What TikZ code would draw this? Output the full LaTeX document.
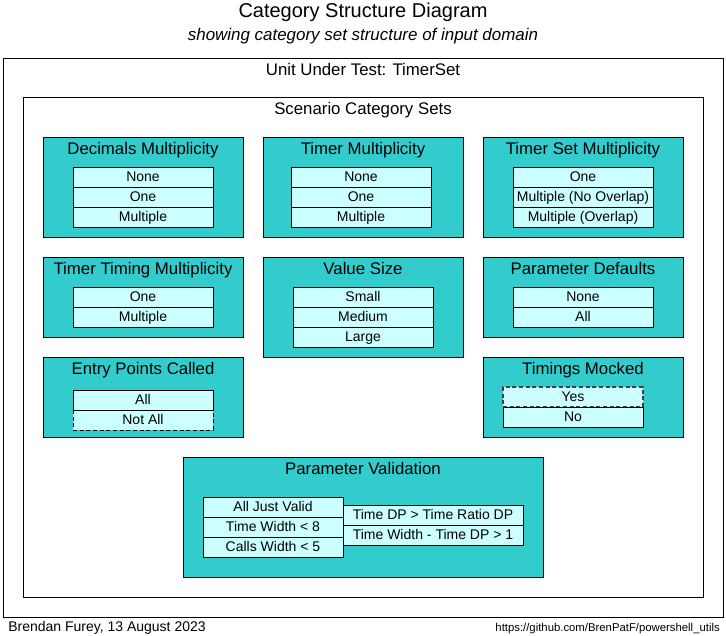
\documentclass[tikz,border=0pt]{standalone}
\usepackage{fontspec}
\setmainfont{Liberation Sans}
\definecolor{boxteal}{HTML}{33CCCC}
\definecolor{itemcyan}{HTML}{CCFFFF}
\begin{document}
\begin{tikzpicture}[x=0.75pt,y=-0.75pt,
  txt/.style={inner sep=0pt, text height=0.716em, text depth=0pt},
  frame/.style={draw=black, line width=0.75pt, inner sep=0pt, anchor=north west},
  catbox/.style={frame, fill=boxteal},
  item/.style={txt, draw=black, fill=itemcyan, line width=0.75pt, minimum height=15pt, minimum width=105pt, font=\fontsize{10.5}{12}\selectfont},
  wideitem/.style={item, minimum width=135pt},
  dashitem/.style={item, dash pattern=on 3pt off 2pt},
  cattitle/.style={txt, font=\fontsize{12.6}{15}\selectfont}]
\path[use as bounding box] (0,0) rectangle (726,636);
% titles
\node[txt, font=\fontsize{15}{18}\selectfont] (title) at (363,13) {Category Structure Diagram};
\node[txt, font=\fontsize{12.7}{15}\selectfont\itshape] (subtitle) at (363,36) {showing category set structure of input domain};
% frames
\node[frame, minimum width=540pt, minimum height=419.25pt] (uut) at (3,58) {};
\node[cattitle] (uutt) at (363,71) {Unit Under Test: TimerSet};
\node[frame, minimum width=510pt, minimum height=375pt] (scs) at (23,97) {};
\node[cattitle] (scst) at (363,110) {Scenario Category Sets};
% Decimals Multiplicity
\node[catbox, minimum width=150pt, minimum height=75pt] (dm) at (43,137) {};
\node[cattitle] (dmt) at (143,150) {Decimals Multiplicity};
\node[item] (dm1) at (143,177) {None};
\node[item] (dm2) at (143,197) {One};
\node[item] (dm3) at (143,217) {Multiple};
% Timer Multiplicity
\node[catbox, minimum width=150pt, minimum height=75pt] (tm) at (263,137) {};
\node[cattitle] (tmt) at (363,150) {Timer Multiplicity};
\node[item] (tm1) at (361,177) {None};
\node[item] (tm2) at (361,197) {One};
\node[item] (tm3) at (361,217) {Multiple};
% Timer Set Multiplicity
\node[catbox, minimum width=150pt, minimum height=75pt] (tsm) at (483,137) {};
\node[cattitle] (tsmt) at (583,150) {Timer Set Multiplicity};
\node[item] (tsm1) at (583,177) {One};
\node[item] (tsm2) at (583,197) {Multiple (No Overlap)};
\node[item] (tsm3) at (583,217) {Multiple (Overlap)};
% Timer Timing Multiplicity
\node[catbox, minimum width=150pt, minimum height=60pt] (ttm) at (43,257) {};
\node[cattitle] (ttmt) at (143,270) {Timer Timing Multiplicity};
\node[item] (ttm1) at (143,297) {One};
\node[item] (ttm2) at (143,317) {Multiple};
% Value Size
\node[catbox, minimum width=150pt, minimum height=75pt] (vs) at (263,257) {};
\node[cattitle] (vst) at (363,270) {Value Size};
\node[item] (vs1) at (363,297) {Small};
\node[item] (vs2) at (363,317) {Medium};
\node[item] (vs3) at (363,337) {Large};
% Parameter Defaults
\node[catbox, minimum width=150pt, minimum height=60pt] (pd) at (483,257) {};
\node[cattitle] (pdt) at (583,270) {Parameter Defaults};
\node[item] (pd1) at (583,297) {None};
\node[item] (pd2) at (583,317) {All};
% Entry Points Called
\node[catbox, minimum width=150pt, minimum height=60pt] (epc) at (43,357) {};
\node[cattitle] (epct) at (143,370) {Entry Points Called};
\node[dashitem] (epc2) at (143,420) {Not All};
\node[item] (epc1) at (143,400) {All};
% Timings Mocked
\node[catbox, minimum width=150pt, minimum height=60pt] (tmk) at (483,357) {};
\node[cattitle] (tmkt) at (583,370) {Timings Mocked};
\node[dashitem, draw=black!75, line width=1pt] (tmk1) at (573,397) {Yes};
\node[item] (tmk2) at (573,417) {No};
% Parameter Validation
\node[catbox, minimum width=270pt, minimum height=90pt] (pv) at (183,457) {};
\node[cattitle] (pvt) at (363,470) {Parameter Validation};
\node[item] (pv1) at (273,507) {All Just Valid};
\node[item] (pv2) at (273,527) {Time Width < 8};
\node[item] (pv3) at (273,547) {Calls Width < 5};
\node[wideitem] (pv4) at (433,515) {Time DP > Time Ratio DP};
\node[wideitem] (pv5) at (433,535) {Time Width - Time DP > 1};
% footer
\node[txt, anchor=west, font=\fontsize{10.5}{12}\selectfont] (author) at (8,627) {Brendan Furey, 13 August 2023};
\node[txt, anchor=east, font=\fontsize{8.5}{10}\selectfont] (url) at (720,627) {https://github.com/BrenPatF/powershell\_utils};
\end{tikzpicture}
\end{document}
